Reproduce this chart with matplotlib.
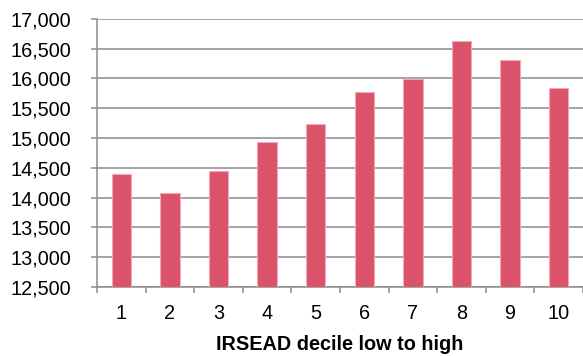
import matplotlib
matplotlib.use("Agg")
import matplotlib.pyplot as plt
from matplotlib.ticker import FuncFormatter, FixedLocator

plt.rcParams['font.family'] = ['Liberation Sans', 'DejaVu Sans']

# IRSEAD deciles and values
deciles = [1, 2, 3, 4, 5, 6, 7, 8, 9, 10]
values = [14400, 14075, 14450, 14940, 15235, 15770, 15995, 16630, 16300, 15835]
y_ticks = list(range(12500, 17001, 500))

fig = plt.figure(figsize=(5.83, 3.56), dpi=100)
ax = fig.add_axes([97 / 583, 69 / 356, 486 / 583, 268.3 / 356])

ax.bar(deciles, [v - 12500 for v in values], bottom=12500, width=0.4,
       color='#DB536B', edgecolor='#F2A7B5', linewidth=0.8, zorder=3)

ax.set_xlim(0.5, 10.5)
ax.set_ylim(12500, 17000)
ax.set_yticks(y_ticks)
ax.yaxis.set_major_formatter(FuncFormatter(lambda v, p: f"{int(v):,}"))
ax.yaxis.grid(True, color='#8C8C8C', linewidth=1.1, zorder=0)

# category labels without ticks, tick marks between categories
ax.set_xticks(deciles)
ax.set_xticklabels([str(d) for d in deciles])
ax.xaxis.set_minor_locator(FixedLocator([d + 0.5 for d in range(0, 11)]))
ax.tick_params(axis='x', which='major', length=0, pad=12, labelsize=14.3)
ax.tick_params(axis='x', which='minor', length=4.5, width=1.1, color='#8C8C8C', direction='out')
ax.tick_params(axis='y', length=4.5, width=1.1, color='#8C8C8C', pad=14, labelsize=14.3)

for s in ['top', 'right']:
    ax.spines[s].set_visible(False)
for s in ['left', 'bottom']:
    ax.spines[s].set_color('#8C8C8C')
    ax.spines[s].set_linewidth(1.1)

ax.set_xlabel("IRSEAD decile low to high", fontsize=14.3, fontweight='bold', labelpad=9)

fig.savefig("out.png", dpi=100)
